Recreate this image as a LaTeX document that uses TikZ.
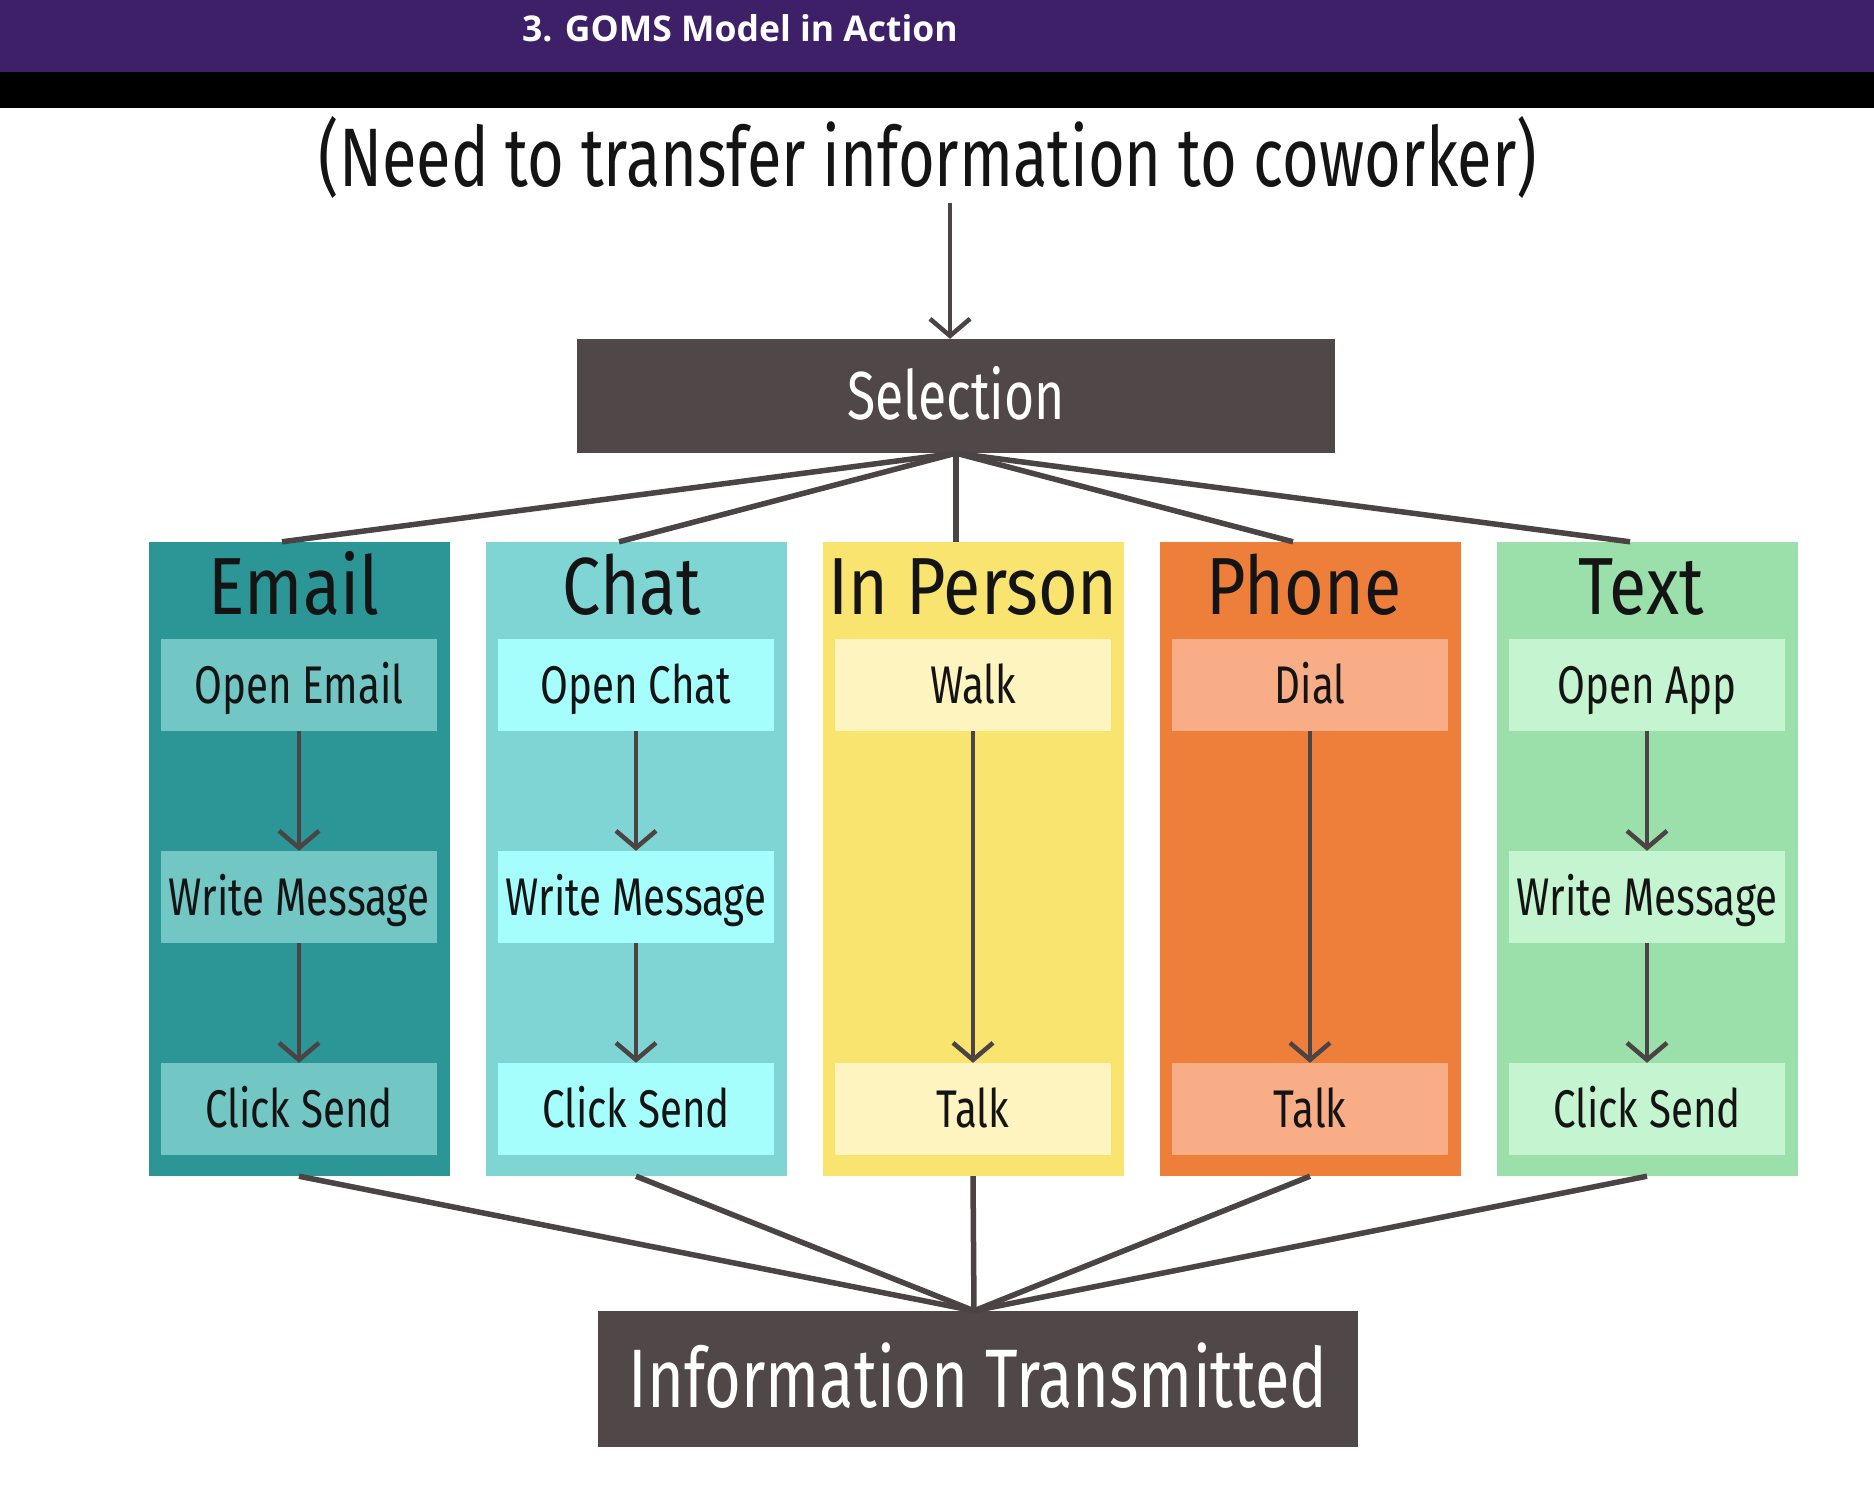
\documentclass[tikz,border=0pt]{standalone}
\usepackage{fontspec}
\usetikzlibrary{arrows.meta}
\newfontfamily\ubfont[FakeStretch=0.76]{Fira Sans}
\newfontfamily\ubwide[FakeStretch=0.84]{Fira Sans}
\newfontfamily\hdfont{Open Sans}

\definecolor{band}{HTML}{3D2068}
\definecolor{boxdark}{HTML}{504748}
\definecolor{wire}{HTML}{4A4445}
\definecolor{emailbg}{HTML}{2C9596}
\definecolor{emailin}{HTML}{72C6C4}
\definecolor{chatbg}{HTML}{7FD5D3}
\definecolor{chatin}{HTML}{A5FEFB}
\definecolor{personbg}{HTML}{F9E46F}
\definecolor{personin}{HTML}{FEF4C0}
\definecolor{phonebg}{HTML}{EE7F3A}
\definecolor{phonein}{HTML}{F9AD87}
\definecolor{textbg}{HTML}{9BDFAA}
\definecolor{textin}{HTML}{C5F5D0}
\definecolor{ink}{HTML}{141414}

\begin{document}
\begin{tikzpicture}[x=1pt,y=-1pt,
  col/.style={minimum width=301pt, minimum height=634pt, inner sep=0pt, draw=none},
  coltitle/.style={inner sep=0pt, text=ink, text height=56pt, text depth=0pt,
    font=\ubwide\fontsize{81}{90}\selectfont},
  stepbox/.style={minimum width=276pt, minimum height=92pt, inner sep=0pt, text=ink,
    text height=37pt, text depth=0pt, font=\ubfont\fontsize{53}{60}\selectfont},
  darkbox/.style={fill=boxdark, text=white, inner sep=0pt},
  wire/.style={line width=5.5pt, draw=wire},
  flow/.style={line width=4.5pt, draw=wire, -{Straight Barb[length=17pt,width=40pt]}}]

% canvas and title bar
\fill[white] (0,0) rectangle (1874,1504);
\useasboundingbox (0,0) rectangle (1874,1504);
\fill[band] (0,0) rectangle (1874,72);
\fill[black] (0,72) rectangle (1874,108);
\node[anchor=west, inner sep=0pt, text=white, text height=25pt, text depth=0pt,
  font=\hdfont\bfseries\fontsize{35.5}{40}\selectfont] (head) at (522,29) {3. GOMS Model in Action};

% goal
\node[inner sep=0pt, text=ink, text height=57pt, text depth=0pt,
  font=\ubfont\fontsize{83}{90}\selectfont] (goal) at (928,158)
  {(Need to transfer information to coworker)};
\coordinate (goalfoot) at (950,203);

% selection
\node[darkbox, minimum width=758pt, minimum height=114pt, text height=47pt, text depth=0pt,
  font=\ubfont\fontsize{68}{80}\selectfont] (sel) at (956,396) {Selection};
\draw[flow] (goalfoot) -- (sel.north -| goalfoot);

% method columns
\node[col, fill=emailbg]  (email)  at (299,859) {};
\node[col, fill=chatbg]   (chat)   at (636,859) {};
\node[col, fill=personbg] (person) at (973,859) {};
\node[col, fill=phonebg]  (phone)  at (1310,859) {};
\node[col, fill=textbg]   (text)   at (1647,859) {};

\node[coltitle] (emailT)  at (294,586)  {Email};
\node[coltitle] (chatT)   at (632,586)  {Chat};
\node[coltitle] (personT) at (973,586)  {In Person};
\node[coltitle] (phoneT)  at (1304,586) {Phone};
\node[coltitle] (textT)   at (1641,586) {Text};

% email steps
\node[stepbox, fill=emailin] (e1) at (299,685)  {Open Email};
\node[stepbox, fill=emailin] (e2) at (299,897)  {Write Message};
\node[stepbox, fill=emailin] (e3) at (299,1109) {Click Send};
\draw[flow] (e1) -- (e2);
\draw[flow] (e2) -- (e3);

% chat steps
\node[stepbox, fill=chatin] (c1) at (636,685)  {Open Chat};
\node[stepbox, fill=chatin] (c2) at (636,897)  {Write Message};
\node[stepbox, fill=chatin] (c3) at (636,1109) {Click Send};
\draw[flow] (c1) -- (c2);
\draw[flow] (c2) -- (c3);

% in-person steps
\node[stepbox, fill=personin] (p1) at (973,685)  {Walk};
\node[stepbox, fill=personin] (p2) at (973,1109) {Talk};
\draw[flow] (p1) -- (p2);

% phone steps
\node[stepbox, fill=phonein] (h1) at (1310,685)  {Dial};
\node[stepbox, fill=phonein] (h2) at (1310,1109) {Talk};
\draw[flow] (h1) -- (h2);

% text steps
\node[stepbox, fill=textin] (t1) at (1647,685)  {Open App};
\node[stepbox, fill=textin] (t2) at (1647,897)  {Write Message};
\node[stepbox, fill=textin] (t3) at (1647,1109) {Click Send};
\draw[flow] (t1) -- (t2);
\draw[flow] (t2) -- (t3);

% result
\node[darkbox, minimum width=760pt, minimum height=136pt, text height=57pt, text depth=0pt,
  font=\ubfont\fontsize{83}{90}\selectfont] (info) at (978,1379) {Information Transmitted};

% fan-out from selection
\foreach \c in {email,chat,person,phone,text}
  \draw[wire] (sel.south) -- ([xshift=-17pt]\c.north);

% fan-in to result
\foreach \c in {email,chat,person,phone,text}
  \draw[wire] (\c.south) -- ([xshift=-4pt]info.north);

\end{tikzpicture}
\end{document}
